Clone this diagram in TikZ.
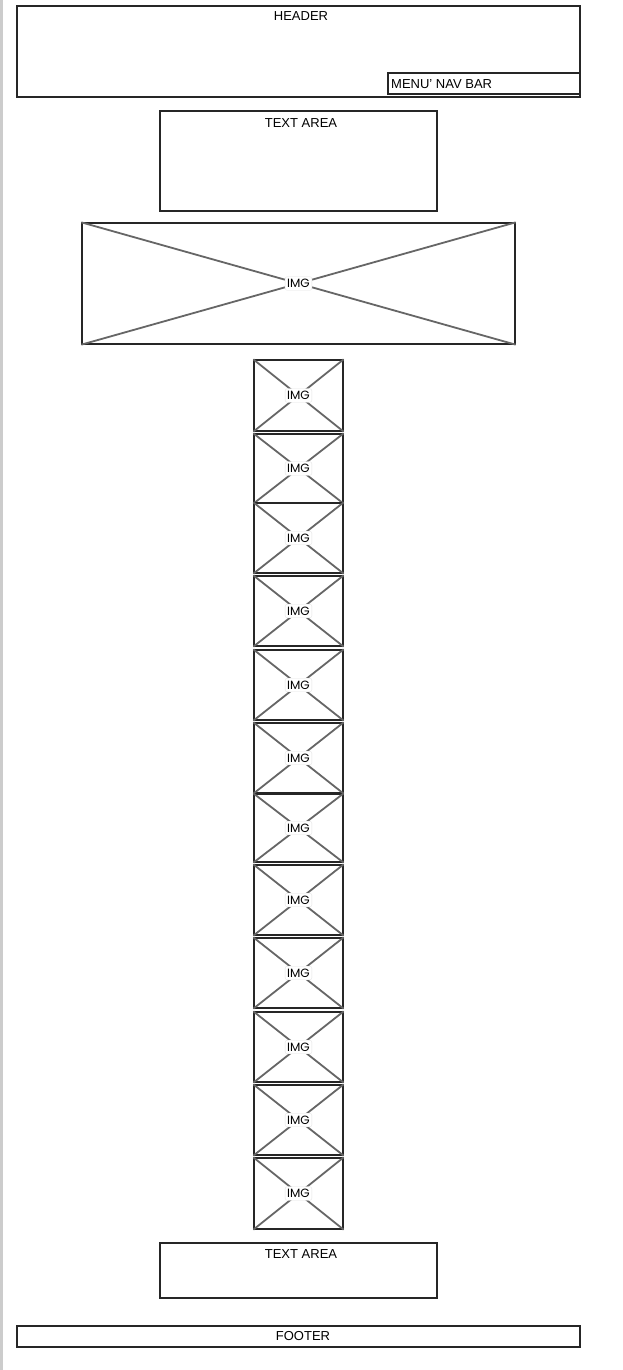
\documentclass[tikz,border=0pt]{standalone}
\usepackage{fontspec}
\setmainfont{Liberation Sans}
\newfontfamily\imgfont{Poppins}
\begin{document}
\begin{tikzpicture}[x=1pt,y=-1pt,
  frame/.style={draw=black!85,line width=1.3pt,fill=none,inner sep=0pt},
  cross/.style={draw=black!60,line width=1.8pt},
  imglabel/.style={fill=white,draw=black!10,rounded corners=2pt,inner xsep=2pt,inner ysep=2.5pt,font=\imgfont\fontsize{12}{14}\selectfont},
  lbl/.style={inner sep=0pt,font=\fontsize{13}{15}\selectfont}]
\useasboundingbox (0,0) rectangle (622,1370);
\fill[white] (0,0) rectangle (622,1370);
\fill[black!20] (0,0) rectangle (3,1370);
% header
\node[frame,minimum width=563pt,minimum height=91pt] (header) at (298.5,51.5) {};
\node[lbl] (headert) at (301,16.5) {HEADER};
\node[frame,minimum width=192pt,minimum height=21pt] (nav) at (484,83.5) {};
\node[lbl,anchor=west] (navt) at (391,84) {MENU\char"0027{} NAV BAR};
% text area 1
\node[frame,minimum width=277pt,minimum height=100pt] (ta1) at (298.5,161) {};
\node[lbl] (ta1t) at (301,123) {TEXT AREA};
% big image
\node[frame,minimum width=433pt,minimum height=121pt] (big) at (298.5,283.5) {};
\draw[cross] (big.north west) -- (big.south east);
\draw[cross] (big.south west) -- (big.north east);
\node[imglabel] (bigl) at (big.center) {IMG};
% small images
\foreach \n/\ya/\yb in {1/360/431,2/434/503,3/503/573,4/576/646,5/650/720,6/723/793,7/794/862,8/865/935,9/938/1008,10/1012/1082,11/1085/1155,12/1158/1229}{
  \node[frame,minimum width=89pt,minimum height={(\yb-\ya)*1pt}] (im\n) at (298.5,{(\ya+\yb)/2}) {};
  \draw[cross] (im\n.north west) -- (im\n.south east);
  \draw[cross] (im\n.south west) -- (im\n.north east);
  \node[imglabel] (iml\n) at (im\n.center) {IMG};
}
% text area 2
\node[frame,minimum width=277pt,minimum height=55pt] (ta2) at (298.5,1270.5) {};
\node[lbl] (ta2t) at (301,1254) {TEXT AREA};
% footer
\node[frame,minimum width=563pt,minimum height=21pt] (footer) at (298.5,1336.5) {};
\node[lbl] (footert) at (303,1336.5) {FOOTER};
\end{tikzpicture}
\end{document}
